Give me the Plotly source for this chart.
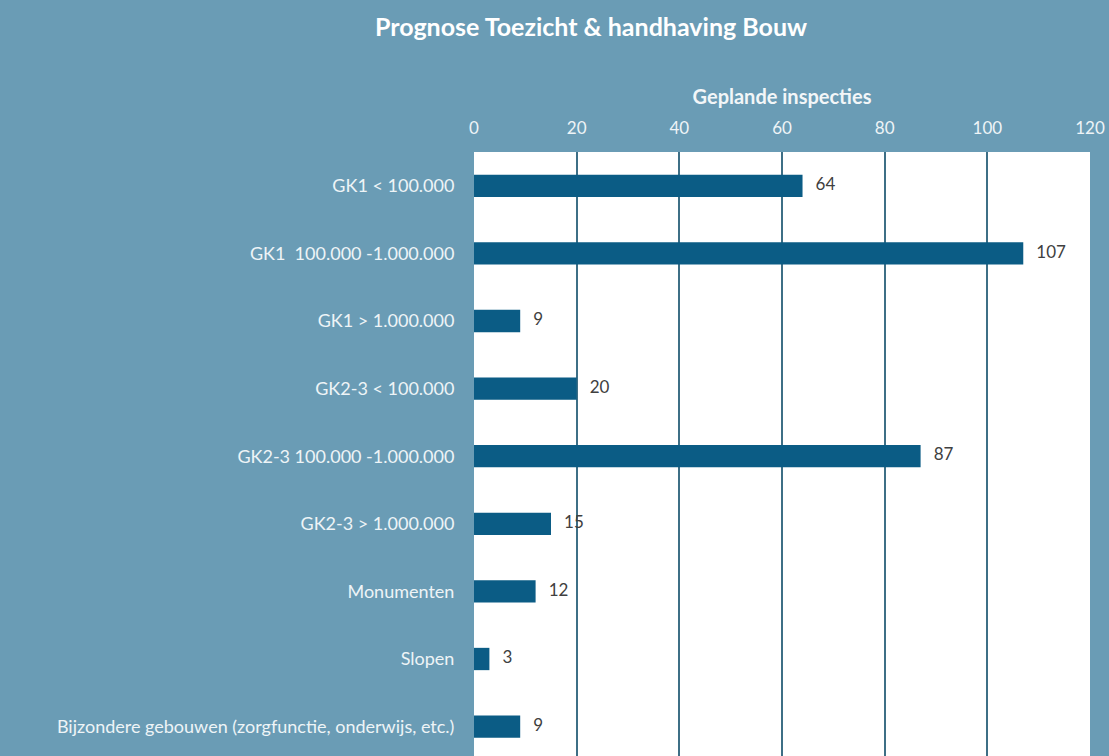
import plotly.graph_objects as go

categories = [
    "GK1 < 100.000",
    "GK1  100.000 -1.000.000",
    "GK1 > 1.000.000",
    "GK2-3 < 100.000",
    "GK2-3 100.000 -1.000.000",
    "GK2-3 > 1.000.000",
    "Monumenten",
    "Slopen",
    "Bijzondere gebouwen (zorgfunctie, onderwijs, etc.)",
]
values = [64, 107, 9, 20, 87, 15, 12, 3, 9]
x_ticks = [0, 20, 40, 60, 80, 100, 120]

BG = "#6A9CB5"
BAR = "#0B5C85"
GRID = "#3E6F86"
FONT = "Lato, 'Open Sans', sans-serif"

fig = go.Figure()
fig.add_trace(go.Bar(
    x=values, y=categories, orientation="h",
    marker=dict(color=BAR, line=dict(width=0)),
    width=0.33, hoverinfo="skip",
))
fig.add_trace(go.Scatter(
    x=values, y=categories, mode="text",
    text=["   " + str(v) for v in values],
    textposition="middle right",
    textfont=dict(family=FONT, size=17, color="#404040"),
    hoverinfo="skip",
))

fig.update_layout(
    width=1109, height=756,
    paper_bgcolor=BG, plot_bgcolor="white",
    showlegend=False,
    margin=dict(l=474, r=19, t=152, b=0),
    title=dict(
        text="<b>Prognose Toezicht &amp; handhaving Bouw</b>",
        x=591 / 1109, xanchor="center", y=1 - 27 / 756, yanchor="middle",
        font=dict(family=FONT, size=25, color="white"),
    ),
    font=dict(family=FONT, color="white"),
    bargap=0.67,
)
fig.update_xaxes(
    side="top", range=[0, 120], tickvals=x_ticks,
    showgrid=True, gridcolor=GRID, gridwidth=1.5,
    zeroline=False, showline=False,
    tickfont=dict(family=FONT, size=17, color="#EEF4F7"),
    ticks="outside", ticklen=10, tickcolor="rgba(0,0,0,0)",
    title=dict(text="<b>Geplande inspecties</b>", standoff=7,
               font=dict(family=FONT, size=20, color="#F2F6F8")),
    fixedrange=True,
)
fig.update_yaxes(
    categoryorder="array", categoryarray=categories,
    range=[8.435, -0.5],
    showgrid=False, zeroline=False, showline=False,
    tickfont=dict(family=FONT, size=18, color="#EEF4F7"),
    ticks="outside", ticklen=15, tickcolor="rgba(0,0,0,0)",
    fixedrange=True,
)

fig.write_html(
    "out.html",
    config={"displayModeBar": False},
    post_script="document.body.style.margin='0';document.body.style.overflow='hidden';",
)
